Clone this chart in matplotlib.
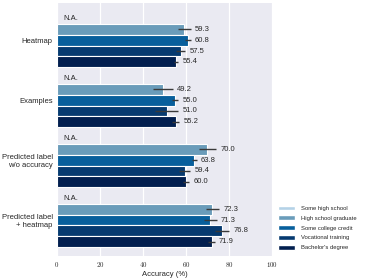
import matplotlib
matplotlib.use("Agg")
import matplotlib.pyplot as plt
import numpy as np
from matplotlib.patches import Patch
from matplotlib.ticker import FuncFormatter

methods = ["Heatmap", "Examples", "Predicted label\nw/o accuracy", "Predicted label\n+ heatmap"]
education = ["Some high school", "High school graduate", "Some college credit",
             "Vocational training", "Bachelor's degree"]
colors = ["#b4d2e7", "#6a9cba", "#085f9c", "#063a70", "#021f4f"]

# accuracy per education level (rows: methods; cols: education levels 2..5)
acc = {
    "High school graduate": [59.3, 49.2, 70.0, 72.3],
    "Some college credit": [60.8, 55.0, 63.8, 71.3],
    "Vocational training": [57.5, 51.0, 59.4, 76.8],
    "Bachelor's degree": [55.4, 55.2, 60.0, 71.9],
}
err = {
    "High school graduate": [3.0, 4.7, 4.0, 3.0],
    "Some college credit": [1.4, 1.5, 1.2, 3.0],
    "Vocational training": [2.2, 5.4, 2.5, 3.3],
    "Bachelor's degree": [1.0, 1.7, 1.5, 1.5],
}
xticks = [0, 20, 40, 60, 80, 100]

plt.rcParams["mathtext.fontset"] = "cm"
plt.rcParams["font.family"] = ["Liberation Sans", "DejaVu Sans"]
fig = plt.figure(figsize=(3.65, 2.78), dpi=100)
fig.patch.set_facecolor("white")
ax = fig.add_axes([0.156, 0.079, 0.589, 0.910])
ax.set_facecolor("#eaeaf2")
for s in ax.spines.values():
    s.set_visible(False)
ax.set_axisbelow(True)
ax.grid(axis="x", color="white", linewidth=0.9)

txtc = "#262626"
pitch = 0.18
centers = np.arange(len(methods))
for j, ed in enumerate(education):
    off = (j - 2) * pitch
    ypos = centers + off
    if ed not in acc:
        for y in ypos:
            ax.text(3, y, "N.A.", fontsize=5.5, va="center", ha="left", color=txtc)
        continue
    vals = np.array(acc[ed])
    e = np.array(err[ed])
    ax.barh(ypos, vals, height=pitch, color=colors[j], edgecolor="white", linewidth=0.8)
    ax.errorbar(vals, ypos, xerr=e, fmt="none", ecolor="#3a3a3a", elinewidth=1.0, capsize=0)
    for v, ee, y in zip(vals, e, ypos):
        ax.text(v + ee + 2.0, y, f"{v:.1f}", fontsize=5.5, va="center", ha="left", color=txtc)

ax.set_ylim(3.6, -0.62)
ax.set_xlim(0, 100)
ax.set_yticks(centers)
ax.set_yticklabels(methods, fontsize=5.5)
ax.set_xticks(xticks)
ax.xaxis.set_major_formatter(FuncFormatter(lambda x, p: f"${int(x)}$"))
ax.tick_params(axis="x", labelsize=5, length=0, pad=2.5, colors=txtc)
ax.tick_params(axis="y", length=0, pad=3, colors=txtc)
ax.set_xlabel("Accuracy (%)", fontsize=5.5, labelpad=1.5, color=txtc)

handles = [Patch(facecolor=c, edgecolor="white", label=l) for c, l in zip(colors, education)]
fig.legend(handles=handles, loc="center left", bbox_to_anchor=(0.762, 0.18), frameon=False,
           fontsize=4.2, handlelength=2.9, handleheight=0.9, labelspacing=0.75, borderaxespad=0,
           borderpad=0, handletextpad=1.1, labelcolor=txtc)

fig.savefig("out.png", dpi=100, facecolor="white")
